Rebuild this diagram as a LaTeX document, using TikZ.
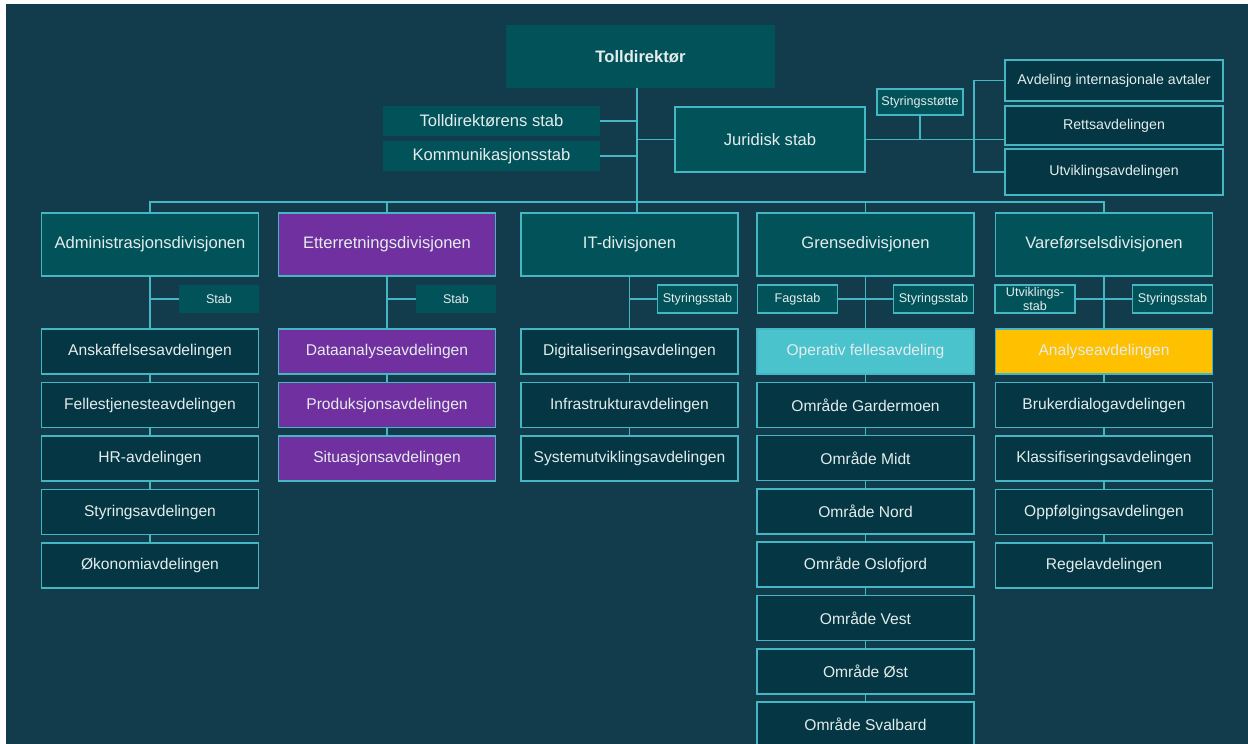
\documentclass[tikz,border=0pt]{standalone}
\usepackage{fontspec}
\setmainfont{Liberation Sans}
\definecolor{bgc}{HTML}{123C4B}
\definecolor{divc}{HTML}{02525A}
\definecolor{depc}{HTML}{043743}
\definecolor{lnc}{HTML}{45B7C4}
\definecolor{txtc}{HTML}{E4ECEC}
\definecolor{purpc}{HTML}{7030A0}
\definecolor{opc}{HTML}{4AC3CD}
\definecolor{goldc}{HTML}{FFC000}

\begin{document}
\begin{tikzpicture}[x=1pt,y=-1pt,
 link/.style={lnc,line width=1.3pt},
 lbl/.style={text=txtc,inner sep=0pt,outer sep=0pt,align=center},
 dep/.style={lbl,draw=lnc,line width=1.6pt,fill=depc,minimum width=217pt,minimum height=45pt,font=\fontsize{15.6}{18}\selectfont},
 divn/.style={dep,fill=divc,minimum height=63pt,font=\fontsize{16.6}{20}\selectfont},
 stabn/.style={lbl,fill=divc,minimum width=80pt,minimum height=28pt,font=\fontsize{12.6}{13.5}\selectfont},
 stabb/.style={stabn,draw=lnc,line width=1.6pt}]
 \path[use as bounding box] (0,0) rectangle (1248,744);
 \clip (0,0) rectangle (1248,744);
 \fill[white] (0,0) rectangle (1248,744);
 \fill[bgc] (6,4) rectangle (1248,744);

 % top level
 \node[divn,draw=none,minimum width=269pt,font=\bfseries\fontsize{16.6}{20}\selectfont] (dir) at (640.5,56.5) {Tolldirektør};
 \node[stabn,minimum width=217pt,minimum height=30pt,font=\fontsize{16.6}{20}\selectfont] (tstab) at (491.5,121) {Tolldirektørens stab};
 \node[stabn,minimum width=217pt,minimum height=30pt,font=\fontsize{16.6}{20}\selectfont] (kstab) at (491.5,156) {Kommunikasjonsstab};
 \node[divn,minimum width=190pt,minimum height=65pt] (jur) at (770,139.5) {Juridisk stab};
 \node[stabb,minimum width=86pt,minimum height=26pt] (sst) at (920,102) {Styringsstøtte};
 \node[dep,minimum width=218pt,minimum height=41pt,font=\fontsize{14.2}{17}\selectfont] (aia) at (1114,80.5) {Avdeling internasjonale avtaler};
 \node[dep,minimum width=218pt,minimum height=39pt,font=\fontsize{14.2}{17}\selectfont] (retts) at (1114,125.5) {Rettsavdelingen};
 \node[dep,minimum width=218pt,minimum height=46pt,font=\fontsize{14.2}{17}\selectfont] (utv) at (1114,172) {Utviklingsavdelingen};
 \coordinate (bus) at (637,202);
 \coordinate (jbus) at (974,0);

 % divisions
 \node[divn] (adm) at (150,244.5) {Administrasjonsdivisjonen};
 \node[divn,fill=purpc] (ett) at (387,244.5) {Etterretningsdivisjonen};
 \node[divn] (it) at (629.5,244.5) {IT-divisjonen};
 \node[divn] (gre) at (865.5,244.5) {Grensedivisjonen};
 \node[divn] (vare) at (1104,244.5) {Vareførselsdivisjonen};

 % staffs
 \node[stabn] (adm-s) at (219,299) {Stab};
 \node[stabn] (ett-s) at (456,299) {Stab};
 \node[stabb] (it-s) at (697.5,299) {Styringsstab};
 \node[stabb] (gre-f) at (797.5,299) {Fagstab};
 \node[stabb] (gre-s) at (933.5,299) {Styringsstab};
 \node[stabb] (vare-u) at (1035,299) {Utviklings-\\stab};
 \node[stabb] (vare-s) at (1172.5,299) {Styringsstab};

 % departments
 \foreach \t [count=\i from 0] in {Anskaffelsesavdelingen,Fellestjenesteavdelingen,HR-avdelingen,Styringsavdelingen,Økonomiavdelingen}
  \node[dep] (adm\i) at (150,351.5+53.5*\i) {\t};
 \foreach \t [count=\i from 0] in {Dataanalyseavdelingen,Produksjonsavdelingen,Situasjonsavdelingen}
  \node[dep,fill=purpc] (ett\i) at (387,351.5+53.5*\i) {\t};
 \foreach \t [count=\i from 0] in {Digitaliseringsavdelingen,Infrastrukturavdelingen,Systemutviklingsavdelingen}
  \node[dep] (it\i) at (629.5,351.5+53.5*\i) {\t};
 \node[dep,fill=opc] (gre0) at (865.5,351.5) {Operativ fellesavdeling};
 \foreach \t [count=\i from 1] in {Område Gardermoen,Område Midt,Område Nord,Område Oslofjord,Område Vest,Område Øst,Område Svalbard}
  \node[dep] (gre\i) at (865.5,351.5+53.3*\i) {\t};
 \node[dep,fill=goldc] (vare0) at (1104,351.5) {Analyseavdelingen};
 \foreach \t [count=\i from 1] in {Brukerdialogavdelingen,Klassifiseringsavdelingen,Oppfølgingsavdelingen,Regelavdelingen}
  \node[dep] (vare\i) at (1104,351.5+53.5*\i) {\t};

 % connectors
 \draw[link] (dir.south -| bus) -- (it.north -| bus);
 \draw[link] (tstab.east) -- (tstab.east -| bus);
 \draw[link] (kstab.east) -- (kstab.east -| bus);
 \draw[link] (jur.west) -- (jur.west -| bus);
 \draw[link] (jur.east) -- (jur.east -| retts.west);
 \draw[link] (sst.south) -- (sst.south |- jur.east);
 \draw[link] (aia.west) -- (aia.west -| jbus) -- (utv.west -| jbus) -- (utv.west);
 \draw[link] (adm.north) -- (adm.north |- bus) -| (vare.north);
 \foreach \c in {ett,gre}
  \draw[link] (\c.north) -- (\c.north |- bus);
 \foreach \c in {adm,ett,it,gre,vare}
  \draw[link] (\c.south) -- (\c0.north);
 \foreach \s/\c in {adm-s/adm,ett-s/ett,it-s/it}
  \draw[link] (\s.west) -- (\s.west -| \c.south);
 \draw[link] (gre-f.east) -- (gre-s.west);
 \draw[link] (vare-u.east) -- (vare-s.west);
 \foreach \c/\n in {adm/4,ett/2,it/2,gre/7,vare/4}
  \foreach \i in {1,...,\n}{
   \pgfmathtruncatemacro\j{\i-1}
   \draw[link] (\c\j.south) -- (\c\i.north);
  }
\end{tikzpicture}
\end{document}
